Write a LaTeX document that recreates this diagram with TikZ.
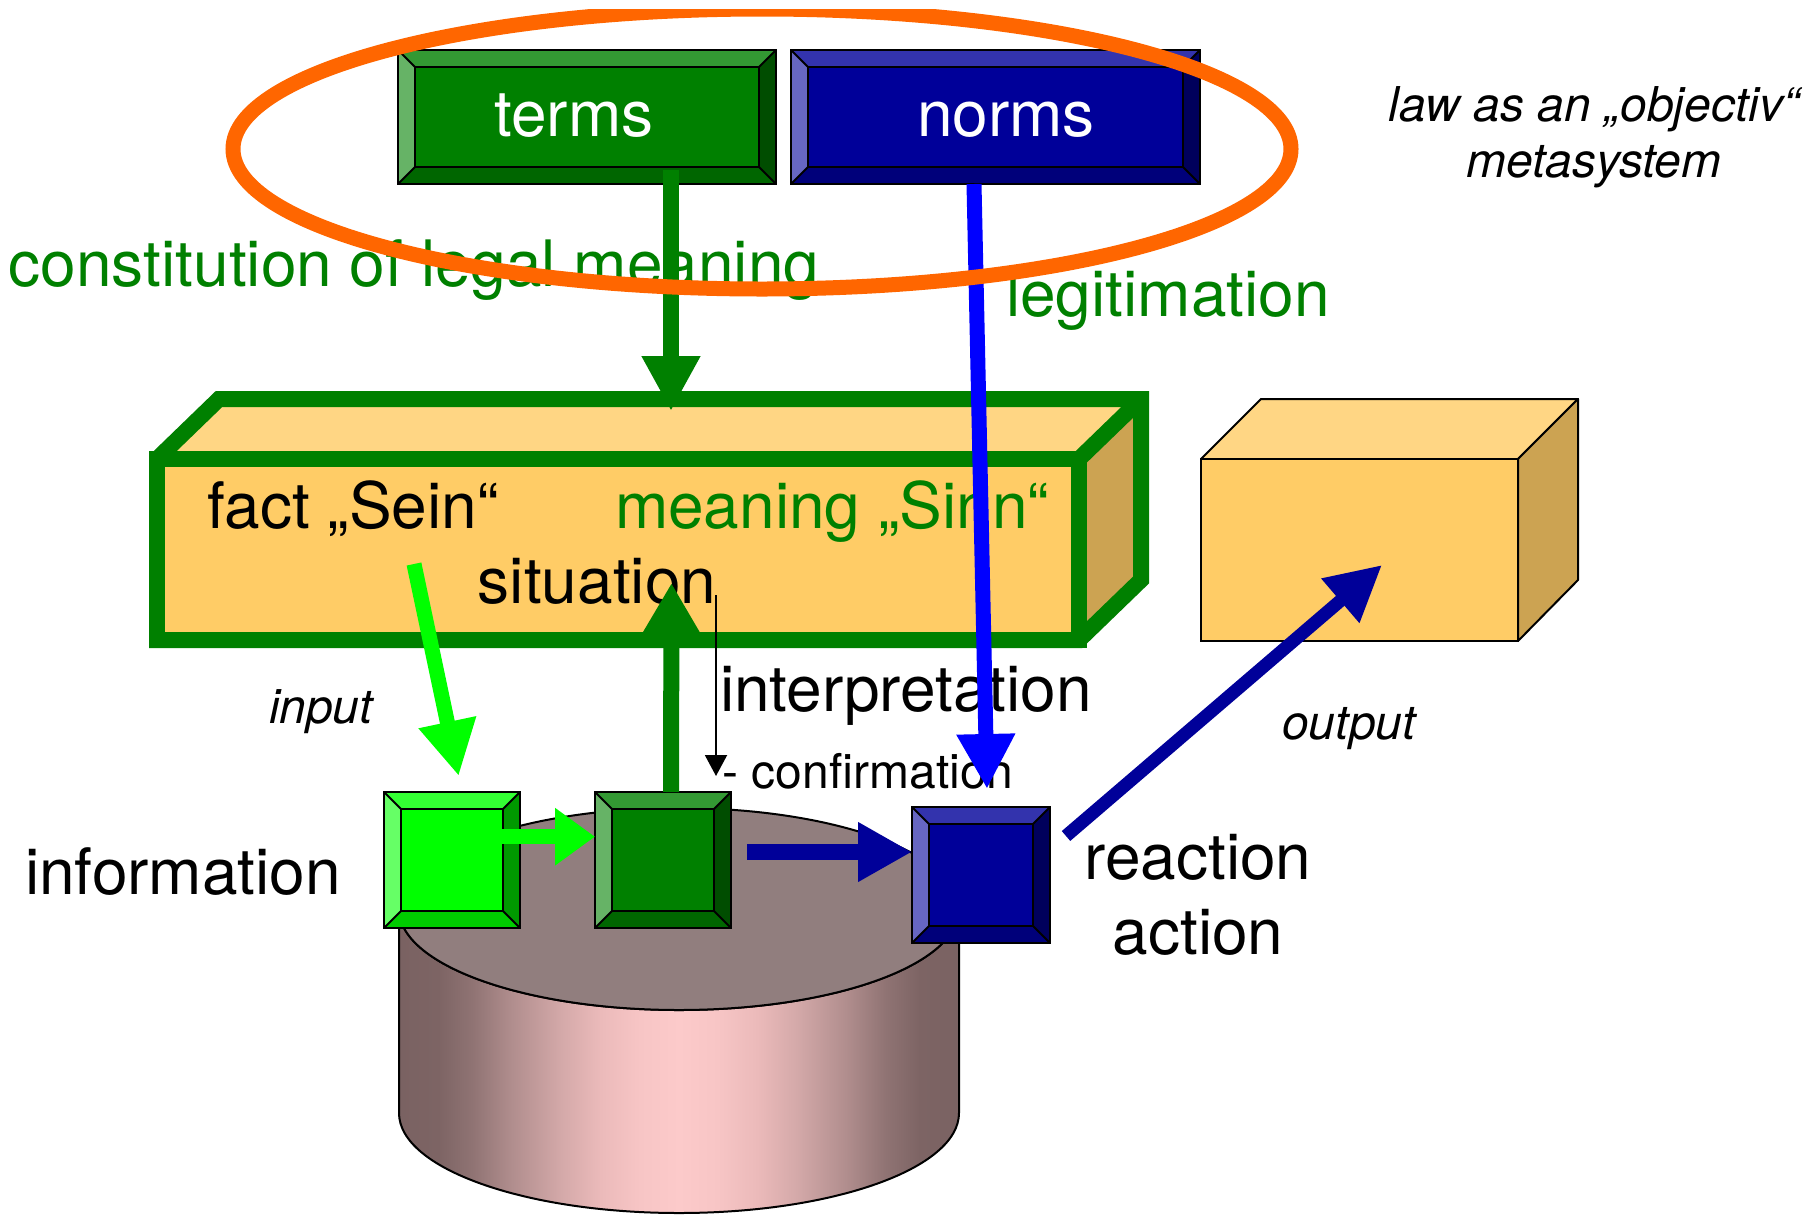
\documentclass[tikz,border=0pt]{standalone}
\usepackage{fontspec}
\setmainfont{TeX Gyre Heros}
\usetikzlibrary{arrows.meta}
\definecolor{ogreen}{HTML}{008000}
\definecolor{gtop}{HTML}{339933}
\definecolor{gleft}{HTML}{66B366}
\definecolor{gbot}{HTML}{006600}
\definecolor{gright}{HTML}{004D00}
\definecolor{navy}{HTML}{000099}
\definecolor{ntop}{HTML}{3333AD}
\definecolor{nleft}{HTML}{6666C2}
\definecolor{nbot}{HTML}{00007A}
\definecolor{nright}{HTML}{00005C}
\definecolor{lgreen}{HTML}{00FF00}
\definecolor{ltop}{HTML}{33FF33}
\definecolor{lleft}{HTML}{66FF66}
\definecolor{lbot}{HTML}{00CC00}
\definecolor{lright}{HTML}{009900}
\definecolor{orng}{HTML}{FF6600}
\definecolor{bblue}{HTML}{0000FF}
\definecolor{ffront}{HTML}{FFCC66}
\definecolor{ftop}{HTML}{FFD684}
\definecolor{fright}{HTML}{CCA352}
\definecolor{cytop}{HTML}{917E7E}
\definecolor{cyA}{HTML}{7A6262}
\definecolor{cyAA}{HTML}{7D6464}
\definecolor{cyB}{HTML}{8F7373}
\definecolor{cyC}{HTML}{B08D8D}
\definecolor{cyD}{HTML}{D4A9A9}
\definecolor{cyE}{HTML}{EBBABA}
\definecolor{cyF}{HTML}{F7C5C5}
\definecolor{cyG}{HTML}{FCCACA}
\pgfdeclarehorizontalshading{cylsh}{100bp}{color(0bp)=(cyA); color(25bp)=(cyA); color(28.5bp)=(cyAA); color(31.5bp)=(cyB); color(35bp)=(cyC); color(39.5bp)=(cyD); color(43bp)=(cyE); color(46.5bp)=(cyF); color(50bp)=(cyG); color(53.5bp)=(cyF); color(57bp)=(cyE); color(60.5bp)=(cyD); color(65bp)=(cyC); color(68.5bp)=(cyB); color(71.5bp)=(cyAA); color(75bp)=(cyA); color(100bp)=(cyA)}
\newcommand\bevelbox[6]{%
  \fill[#3] (#1.north west) -- (#1.north east) -- ([shift={(-#2,#2)}]#1.north east) -- ([shift={(#2,#2)}]#1.north west) -- cycle;
  \fill[#4] (#1.north west) -- (#1.south west) -- ([shift={(#2,-#2)}]#1.south west) -- ([shift={(#2,#2)}]#1.north west) -- cycle;
  \fill[#5] (#1.south west) -- (#1.south east) -- ([shift={(-#2,-#2)}]#1.south east) -- ([shift={(#2,-#2)}]#1.south west) -- cycle;
  \fill[#6] (#1.north east) -- (#1.south east) -- ([shift={(-#2,-#2)}]#1.south east) -- ([shift={(-#2,#2)}]#1.north east) -- cycle;
  \draw[line width=2bp] (#1.north west) rectangle (#1.south east);
  \draw[line width=2bp] ([shift={(#2,#2)}]#1.north west) rectangle ([shift={(-#2,-#2)}]#1.south east);
  \draw[line width=2bp] (#1.north west) -- ([shift={(#2,#2)}]#1.north west)
     (#1.north east) -- ([shift={(-#2,#2)}]#1.north east)
     (#1.south west) -- ([shift={(#2,-#2)}]#1.south west)
     (#1.south east) -- ([shift={(-#2,-#2)}]#1.south east);
}
\tikzset{
  bev/.style={draw=black, line width=2bp, inner sep=0pt, outer sep=0pt},
  big/.style={font=\fontsize{64bp}{70bp}\selectfont, inner sep=0pt, anchor=base},
  small/.style={font=\fontsize{48bp}{55bp}\selectfont, inner sep=0pt, anchor=base},
  fat/.style={line width=16bp, -{Triangle[length=55bp,width=55bp]}},
}
\begin{document}
\begin{tikzpicture}[x=1bp, y=-1bp]
\fill[white] (0,0) rectangle (1820,1215);
\useasboundingbox (0,0) rectangle (1820,1215);

% cylinder
\shadedraw[shading=cylsh, draw=black, line width=2bp] (399,909) -- (399,1113)
  arc[start angle=180, end angle=0, x radius=280, y radius=100] -- (959,909)
  arc[start angle=0, end angle=180, x radius=280, y radius=101] -- cycle;
\filldraw[fill=cytop, draw=black, line width=2bp] (679,909) ellipse[x radius=280, y radius=101];

% situation box
\fill[ftop] (157,459) -- (219,399) -- (1141,399) -- (1079,459) -- cycle;
\fill[fright] (1079,459) -- (1141,399) -- (1141,580) -- (1079,640) -- cycle;
\draw[ogreen, line width=16bp, line join=miter] (157,459) -- (219,399) -- (1141,399) -- (1141,580) -- (1079,640) -- (157,640) -- cycle;
\draw[ogreen, line width=16bp] (1079,459) -- (1141,399);
\node[draw=ogreen, fill=ffront, line width=16bp, minimum width=922bp, minimum height=181bp, inner sep=0pt, outer sep=0pt] (sit) at (618,549.5) {};

% output box
\filldraw[fill=ftop, draw=black, line width=2bp, line join=round] (1201,459) -- (1261,399) -- (1578,399) -- (1518,459) -- cycle;
\filldraw[fill=fright, draw=black, line width=2bp, line join=round] (1518,459) -- (1578,399) -- (1578,580) -- (1518,641) -- cycle;
\node[draw=black, fill=ffront, line width=2bp, minimum width=317bp, minimum height=182bp, inner sep=0pt, outer sep=0pt] (outbox) at (1359.5,550) {};

% bevel boxes
\node[bev, fill=ogreen, minimum width=378bp, minimum height=134bp] (terms) at (587,117) {};
\bevelbox{terms}{17}{gtop}{gleft}{gbot}{gright}
\node[bev, fill=navy, minimum width=409bp, minimum height=134bp] (norms) at (995.5,117) {};
\bevelbox{norms}{17}{ntop}{nleft}{nbot}{nright}
\node[bev, fill=lgreen, minimum width=136bp, minimum height=136bp] (gsq) at (452,860) {};
\bevelbox{gsq}{17}{ltop}{lleft}{lbot}{lright}
\node[bev, fill=ogreen, minimum width=136bp, minimum height=136bp] (dsq) at (663,860) {};
\bevelbox{dsq}{17}{gtop}{gleft}{gbot}{gright}
\node[bev, fill=navy, minimum width=138bp, minimum height=136bp] (bsq) at (981,875) {};
\bevelbox{bsq}{17}{ntop}{nleft}{nbot}{nright}

% texts
\node[big, white] (tterms) at (574,136) {terms};
\node[big, white] (tnorms) at (1006,136) {norms};
\node[small, font=\fontsize{48bp}{55bp}\selectfont\itshape, align=center, anchor=base] (tlaw) at (1594,121) {law as an „objectiv“};
\node[small, font=\fontsize{48bp}{55bp}\selectfont\itshape, anchor=base] (tmeta) at (1594,177) {metasystem};
\node[big, ogreen] (tconst) at (414,286) {constitution of legal meaning};
\node[big, ogreen] (tlegit) at (1168,316) {legitimation};
\node[big] (tfact) at (353,528) {fact „Sein“};
\node[big, ogreen] (tmean) at (832,528) {meaning „Sinn“};
\node[big] (tsit) at (597,603) {situation};
\node[big] (tinterp) at (906,711) {interpretation};
\node[small] (tconf) at (868,788) {- confirmation};
\node[small, font=\fontsize{48bp}{55bp}\selectfont\itshape] (tinput) at (321,723) {input};
\node[small, font=\fontsize{48bp}{55bp}\selectfont\itshape] (toutput) at (1349,739) {output};
\node[big] (tinfo) at (183,894) {information};
\node[big] (treact) at (1198,879) {reaction};
\node[big] (taction) at (1198,954) {action};

% connector end points
\coordinate (tipA) at (671,411);
\coordinate (inS) at (414,564);
\coordinate (outT) at (1382,565);
\coordinate (intS) at (716,595);
\coordinate (intE) at (716,776);
\coordinate (upT) at (671.5,583);

% arrows
\draw[fat, ogreen] ([shift={(84,-14)}]terms.south) -- (tipA);
\draw[line width=15bp, bblue, -{Triangle[length=55bp,width=55bp]}] ([shift={(-21.5,0)}]norms.south) -- ([shift={(6,-18)}]bsq.north);
\draw[line width=15bp, lgreen, -{Triangle[length=55bp,width=55bp]}] (inS) -- ([shift={(6.7,-16)}]gsq.north);
\draw[line width=15bp, lgreen, -{Triangle[length=40bp,width=55bp]}] ([shift={(-18,-23.3)}]gsq.east) -- ([shift={(0,-23.3)}]dsq.west);
\draw[line width=16bp, navy, -{Triangle[length=54bp,width=56bp]}] ([shift={(16,-8)}]dsq.east) -- ([shift={(0,-23)}]bsq.west);
\draw[line width=16bp, ogreen, -{Triangle[length=50bp,width=54bp]}] ([shift={(8,0)}]dsq.north) -- (upT);
\draw[line width=13bp, navy, -{Triangle[length=55bp,width=55bp]}] ([shift={(16,-39)}]bsq.east) -- (outT);
\draw[line width=2bp, black, -{Triangle[length=21bp,width=22bp]}] (intS) -- (intE);

% orange ellipse
\begin{scope}
\clip (0,9) rectangle (1820,1215);
\draw[orng, line width=15bp] (762,149) ellipse[x radius=529, y radius=140];
\end{scope}
\end{tikzpicture}
\end{document}
